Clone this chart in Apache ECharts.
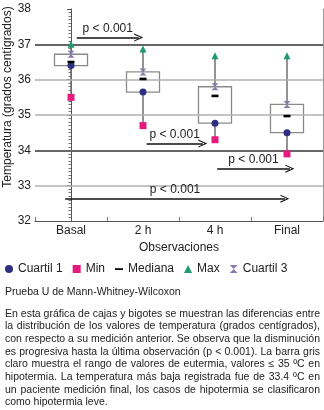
<!DOCTYPE html>
<html>
<head>
<meta charset="utf-8">
<script src="https://cdn.jsdelivr.net/npm/echarts@6/dist/echarts.min.js"></script>
<style>
  body { margin: 0; background: #fff; }
  #wrap { position: relative; width: 324px; height: 410px; overflow: hidden; }
  #chart { position: absolute; left: 0; top: 0; width: 324px; height: 410px; }
  .note { position: absolute; left: 5px; width: 315px; font-family: 'Liberation Sans', Arial, sans-serif; font-size: 10.5px; color: #222; }
  #test { top: 285px; line-height: 13px; }
  #para { top: 306.5px; line-height: 12.67px; }
  #para div { white-space: nowrap; text-align: justify; text-align-last: justify; }
  #para div.last { text-align-last: left; }
</style>
</head>
<body>
<div id="wrap">
  <div id="chart"></div>
  <div class="note" id="test">Prueba U de Mann-Whitney-Wilcoxon</div>
  <div class="note" id="para">
    <div>En esta gráfica de cajas y bigotes se muestran las diferencias entre</div>
    <div>la distribución de los valores de temperatura (grados centígrados),</div>
    <div>con respecto a su medición anterior. Se observa que la disminución</div>
    <div>es progresiva hasta la última observación (p &lt; 0.001). La barra gris</div>
    <div>claro muestra el rango de valores de eutermia, valores ≤ 35 ºC en</div>
    <div>hipotermia. La temperatura más baja registrada fue de 33.4 ºC en</div>
    <div>un paciente medición final, los casos de hipotermia se clasificaron</div>
    <div class="last">como hipotermia leve.</div>
  </div>
</div>
<script>
// box plot summary per observation (grados centígrados)
const categories = ['Basal', '2 h', '4 h', 'Final'];
const minValues = [35.5, 34.7, 34.3, 33.9];
const q1Values = [36.4, 35.65, 34.77, 34.5];
const medianValues = [36.5, 36.02, 35.54, 34.97];
const q3Values = [36.72, 36.22, 35.8, 35.3];
const maxValues = [37.0, 36.87, 36.68, 36.68];

// reference lines
const refLines = [33, 34, 35, 36, 37];
const strongLines = [34, 37];

// significance arrows (x in category units, y in degrees)
const arrowStart = [0.08, 1.05, 2.03, -0.08];
const arrowEnd = [0.94, 1.83, 3.04, 2.97];
const arrowLevel = [37.19, 34.19, 33.48, 32.63];
const arrowLabel = 'p < 0.001';

const FONT = "'Liberation Sans', Arial, sans-serif";
const chevron = 'path://M0,10 L5,0 L10,10 L8.6,10 L5,2.8 L1.4,10 Z';
const hourglass = 'path://M0,0 L10,0 L5,5 L10,10 L0,10 L5,5 Z';
const dash = 'path://M0,0 L0.01,0 L0,0.01 Z M0,4 L10,4 L10,6.2 L0,6.2 Z M0,10 L0.01,10 L0,10.01 Z';

const chart = echarts.init(document.getElementById('chart'));

const boxData = categories.map((c, i) => [i, minValues[i], q1Values[i], q3Values[i], maxValues[i]]);

const option = {
  animation: false,
  textStyle: { fontFamily: FONT },
  grid: { left: 35, right: 1, top: 9, bottom: 189 },
  legend: {
    left: 0,
    top: 258,
    itemWidth: 8,
    itemHeight: 8,
    itemGap: 10,
    textStyle: { fontSize: 12, color: '#222', fontFamily: FONT },
    data: [
      { name: 'Cuartil 1', icon: 'circle' },
      { name: 'Min', icon: 'rect' },
      { name: 'Mediana', icon: dash },
      { name: 'Max', icon: 'triangle' },
      { name: 'Cuartil 3', icon: hourglass }
    ]
  },
  graphic: [{
    type: 'text',
    x: 8,
    y: 97,
    rotation: Math.PI / 2,
    style: {
      text: 'Temperatura (grados centígrados)',
      font: '12px ' + FONT,
      fill: '#222',
      align: 'center',
      verticalAlign: 'middle'
    }
  }],
  xAxis: [{
    type: 'category',
    data: categories,
    boundaryGap: true,
    name: 'Observaciones',
    nameLocation: 'middle',
    nameGap: 17,
    nameTextStyle: { fontSize: 12, color: '#222' },
    axisLine: { lineStyle: { color: '#555', width: 1 } },
    axisTick: { show: true, inside: true, length: 4, alignWithLabel: false, lineStyle: { color: '#777' } },
    axisLabel: { fontSize: 12, color: '#222', margin: 4 },
    splitLine: { show: false }
  }, {
    type: 'value',
    min: -0.5,
    max: 3.5,
    show: false
  }],
  yAxis: [{
    type: 'value',
    min: 32,
    max: 38,
    interval: 1,
    axisLine: { show: true, lineStyle: { color: '#555' } },
    axisTick: { show: true, length: 4, lineStyle: { color: '#555' } },
    minorTick: { show: true, splitNumber: 10, length: 2.5, lineStyle: { color: '#777' } },
    axisLabel: { fontSize: 12, color: '#222', margin: 4 },
    splitLine: { show: false }
  }, {
    type: 'value',
    min: 32,
    max: 38,
    interval: 1,
    position: 'right',
    axisLine: { show: true, lineStyle: { color: '#999' } },
    axisTick: { show: false },
    axisLabel: { show: false },
    splitLine: { show: false }
  }],
  series: [
    {
      name: 'refs',
      type: 'line',
      data: [],
      silent: true,
      markLine: {
        silent: true,
        symbol: 'none',
        label: { show: false },
        data: refLines.map(v => ({
          yAxis: v,
          lineStyle: strongLines.includes(v)
            ? { color: '#666', width: 2, type: 'solid' }
            : { color: '#b0b0b0', width: 1.5, type: 'solid' }
        }))
      }
    },
    {
      name: 'boxes',
      type: 'custom',
      data: boxData,
      encode: { x: 0, y: [1, 2, 3, 4] },
      silent: true,
      renderItem: function (params, api) {
        const idx = api.value(0);
        const x = api.coord([idx, api.value(1)])[0];
        const yMin = api.coord([idx, api.value(1)])[1];
        const yQ1 = api.coord([idx, api.value(2)])[1];
        const yQ3 = api.coord([idx, api.value(3)])[1];
        const yMax = api.coord([idx, api.value(4)])[1];
        const w = 33;
        return {
          type: 'group',
          children: [
            { type: 'line', shape: { x1: x, y1: yMin, x2: x, y2: yMax }, style: { stroke: '#6f6f6f', lineWidth: 1.5 } },
            { type: 'rect', shape: { x: x - w / 2, y: yQ3, width: w, height: yQ1 - yQ3 }, style: { fill: '#fff', stroke: '#8a8a8a', lineWidth: 1.3 } }
          ]
        };
      }
    },
    {
      name: 'arrows',
      type: 'line',
      xAxisIndex: 1,
      data: [],
      silent: true,
      markLine: {
        silent: true,
        symbol: ['none', chevron],
        symbolSize: [8, 9],
        lineStyle: { color: '#111', width: 1.5, type: 'solid' },
        label: { show: true, position: 'middle', formatter: arrowLabel, fontSize: 12, color: '#222', distance: 3 },
        data: arrowStart.map((s, i) => [
          { coord: [s, arrowLevel[i]] },
          { coord: [arrowEnd[i], arrowLevel[i]] }
        ])
      }
    },
    {
      name: 'Cuartil 1', type: 'scatter', data: q1Values,
      symbol: 'circle', symbolSize: 7, itemStyle: { color: '#2e2f80', opacity: 1 }, z: 5
    },
    {
      name: 'Min', type: 'scatter', data: minValues,
      symbol: 'rect', symbolSize: 7, itemStyle: { color: '#e5197f', opacity: 1 }, z: 5
    },
    {
      name: 'Mediana', type: 'scatter', data: medianValues,
      symbol: 'rect', symbolSize: [7, 2.6], itemStyle: { color: '#000', opacity: 1 }, z: 5
    },
    {
      name: 'Max', type: 'scatter', data: maxValues,
      symbol: 'triangle', symbolSize: 7, itemStyle: { color: '#1e9b6c', opacity: 1 }, z: 5
    },
    {
      name: 'Cuartil 3', type: 'scatter', data: q3Values,
      symbol: hourglass, symbolSize: 7, itemStyle: { color: '#8a7aaa', opacity: 1 }, z: 5
    }
  ]
};

chart.setOption(option);
</script>
</body>
</html>
